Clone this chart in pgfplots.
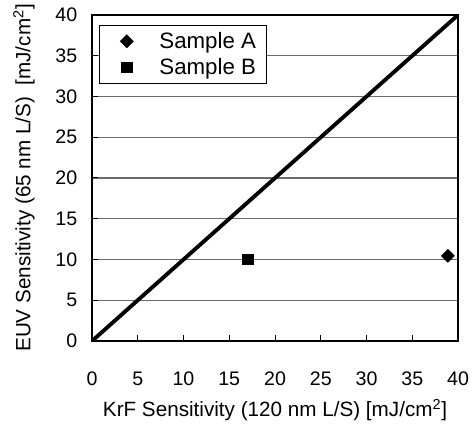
\documentclass[border=0pt]{standalone}
\usepackage{fontspec}
\setmainfont{Liberation Sans}
\usepackage{pgfplots}
\pgfplotsset{compat=1.18}
\pgfplotsset{mylegimg/.style={legend image code/.code={\path[draw=none,fill=none] (0pt,-4pt) rectangle (37pt,4pt);\draw[##1] plot coordinates {(14.5pt,0pt)};}}}
\begin{document}
\begin{tikzpicture}
\begin{axis}[
  scale only axis, width=274.5pt, height=244.5pt,
  xmin=0, xmax=40, ymin=0, ymax=40,
  xtick={0,5,...,40}, ytick={0,5,...,40},
  tick align=inside, xtick pos=bottom, ytick pos=left,
  major tick length=4.5pt,
  ymajorgrids, grid style={color=black!58, line width=0.8pt},
  axis line style={line width=0.9pt},
  tick style={black, line width=0.75pt},
  /pgf/number format/assume math mode=true,
  tick label style={font=\fontsize{14.7}{17}\selectfont},
  xticklabel style={yshift=-19.5pt},
  yticklabel style={xshift=-7.5pt},
  xlabel={KrF Sensitivity (120 nm L/S) [mJ/cm\textsuperscript{2}]},
  ylabel={EUV Sensitivity (65 nm L/S)\ \ [mJ/cm\textsuperscript{2}]},
  label style={font=\fontsize{15.5}{18}\selectfont},
  xlabel style={at={(axis description cs:0.5,-0.212)}, anchor=center},
  ylabel style={at={(axis description cs:-0.186,0.5)}, anchor=center},
  legend cell align=left,
  legend style={at={(axis description cs:0.019,0.969)}, anchor=north west,
    draw=black, line width=0.75pt, fill=white,
    font=\fontsize{16.7}{17}\selectfont, row sep=2pt,
    inner xsep=6pt, inner ysep=3pt},
]
\addplot[black, line width=2.9pt, forget plot] coordinates {(0,0) (40,40)};
\addplot[only marks, mylegimg, mark=square*, mark size=3.4pt, mark options={rotate=45, fill=black, draw=black, line width=0.5pt}] coordinates {(38.9,10.45)};
\addlegendentry{Sample A}
\addplot[only marks, mylegimg, mark=square*, mark size=4pt, mark options={fill=black, draw=black, line width=0.5pt}] coordinates {(17,10)};
\addlegendentry{Sample B}
\end{axis}
\pgfresetboundingbox
\path (-69pt,-64.5pt) rectangle (285.75pt,255.75pt);
\end{tikzpicture}
\end{document}
